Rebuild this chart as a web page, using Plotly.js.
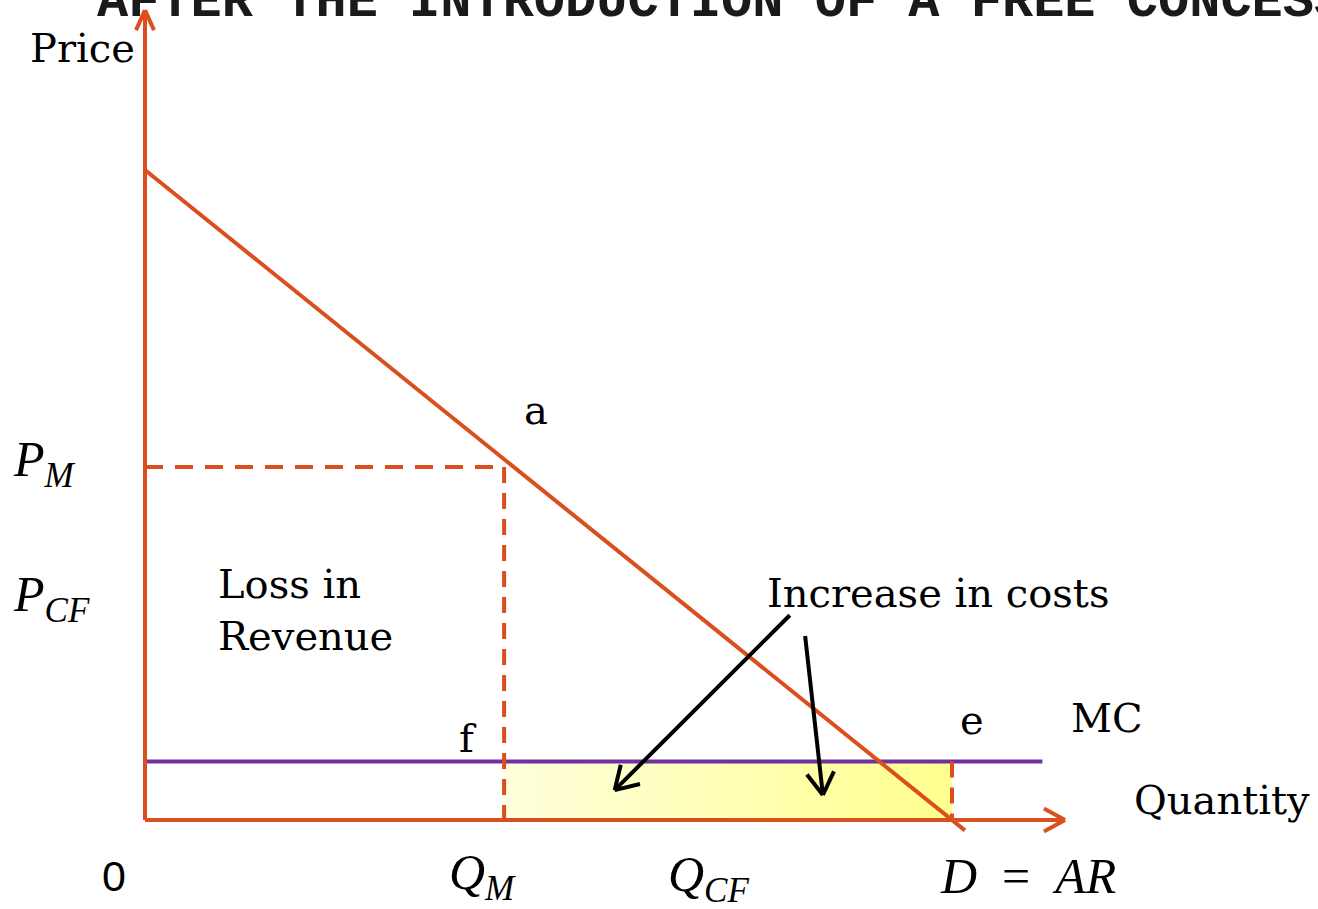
<!DOCTYPE html>
<html>
<head>
<meta charset="utf-8">
<script src="https://cdn.plot.ly/plotly-3.0.1.min.js"></script>
<style>html,body{margin:0;padding:0;background:#fff;}#chart{width:1318px;height:909px;}</style>
</head>
<body>
<div id="chart"></div>
<script>
// ---- data (abstract units: quantity on x, price on y) ----
const demandQ = [0, 10.16];
const demandP = [10, -0.16];
const mcQ = [0, 11.12];
const mcP = [0.9, 0.9];
const QM = 4.45;      // monopoly quantity
const PM = 5.43;      // monopoly price
const QE = 10;        // quantity at e
const MCLEVEL = 0.9;
const axisTopP = 12.46;
const axisEndQ = 11.4;
const titleText = 'AFTER THE INTRODUCTION OF A FREE CONCESSION';

const labelTexts = ['Price', 'Quantity', 'a', 'f', 'e', 'MC', 'Increase in costs', 'Loss in<br>Revenue'];
const labelQ = [-0.78, 13.35, 4.84, 4.0, 10.25, 11.92, 9.83, 0.88];
const labelP = [11.88, 0.31, 6.31, 1.26, 1.54, 1.57, 3.49, 3.23];
const labelAnchor = ['center','center','center','center','center','center','center','left'];
const originLabel = '0';
const originQ = -0.39, originP = -0.86;

const mathTexts = ['<i>P</i><sub><i>M</i></sub>', '<i>P</i><sub><i>CF</i></sub>', '<i>Q</i><sub><i>M</i></sub>', '<i>Q</i><sub><i>CF</i></sub>', '<i>D</i>&nbsp;&nbsp;=&nbsp;&nbsp;<i>AR</i>'];
const mathQ = [-1.66, -1.66, 4.18, 6.98, 10.94];
const mathP = [5.5, 3.42, -0.86, -0.89, -0.86];
const mathAnchor = ['left','left','center','center','center'];

// pointer arrows: tail -> head
const arrowTailQ = [7.99, 8.18];
const arrowTailP = [3.15, 2.83];
const arrowHeadQ = [5.82, 8.40];
const arrowHeadP = [0.46, 0.385];

// ---- scales ----
const W = 1318, H = 909, OX = 145, OY = 820, SX = 80.7, SY = 65;
const xr = [-OX / SX, (W - OX) / SX];
const yr = [-(H - OY) / SY, OY / SY];

const ORANGE = '#D9501E';
const PURPLE = '#7030A0';

const traces = [];
traces.push({
  x: [QM, QE, QE, QM, QM], y: [0, 0, MCLEVEL, MCLEVEL, 0],
  type: 'scatter', mode: 'lines', fill: 'toself', line: {width: 0},
  fillgradient: {type: 'horizontal', colorscale: [[0, '#FFFFDC'], [1, '#FFFF8E']]},
  hoverinfo: 'skip'
});
traces.push({x: mcQ, y: mcP, type: 'scatter', mode: 'lines', line: {color: PURPLE, width: 4}, hoverinfo: 'skip'});
traces.push({x: [0, QM], y: [PM, PM], type: 'scatter', mode: 'lines', line: {color: ORANGE, width: 4, dash: '18px,12px'}, hoverinfo: 'skip'});
traces.push({x: [QM, QM], y: [PM, 0], type: 'scatter', mode: 'lines', line: {color: ORANGE, width: 4, dash: '16px,10px'}, hoverinfo: 'skip'});
traces.push({x: [QE, QE], y: [MCLEVEL, 0], type: 'scatter', mode: 'lines', line: {color: ORANGE, width: 4, dash: '16px,10px'}, hoverinfo: 'skip'});
traces.push({x: demandQ, y: demandP, type: 'scatter', mode: 'lines', line: {color: ORANGE, width: 4}, hoverinfo: 'skip'});
traces.push({x: [0, 0], y: [0, axisTopP], type: 'scatter', mode: 'lines', line: {color: ORANGE, width: 4}, hoverinfo: 'skip'});
traces.push({x: [0, axisEndQ], y: [0, 0], type: 'scatter', mode: 'lines', line: {color: ORANGE, width: 4}, hoverinfo: 'skip'});
for (let i = 0; i < arrowTailQ.length; i++) {
  traces.push({x: [arrowTailQ[i], arrowHeadQ[i]], y: [arrowTailP[i], arrowHeadP[i]], type: 'scatter', mode: 'lines', line: {color: '#000', width: 4}, hoverinfo: 'skip'});
}

const shapes = [];
function chevron(q, p, dirPx, dirPy, len, ang, color, width) {
  const n = Math.hypot(dirPx, dirPy);
  const bx = -dirPx / n, by = -dirPy / n;
  [ang, -ang].forEach(a => {
    const c = Math.cos(a), s = Math.sin(a);
    const rx = bx * c - by * s, ry = bx * s + by * c;
    shapes.push({type: 'line', xref: 'x', yref: 'y', x0: q, y0: p,
      x1: q + rx * len / SX, y1: p + ry * len / SY,
      line: {color: color, width: width}});
  });
}
chevron(0, axisTopP, 0, 1, 22, 0.42, ORANGE, 4);
chevron(axisEndQ, 0, 1, 0, 24, 0.5, ORANGE, 4);
for (let i = 0; i < arrowTailQ.length; i++) {
  const dpx = (arrowHeadQ[i] - arrowTailQ[i]) * SX;
  const dpy = (arrowHeadP[i] - arrowTailP[i]) * SY;
  chevron(arrowHeadQ[i], arrowHeadP[i], dpx, dpy, 26, 0.55, '#000', 4);
}

const annotations = [];
annotations.push({xref: 'paper', yref: 'paper', x: 95 / W, y: 1 - 34 / H, xanchor: 'left', yanchor: 'bottom',
  text: '<b>' + titleText + '</b>', showarrow: false,
  font: {family: 'Liberation Mono, DejaVu Sans Mono, monospace', size: 52, color: '#1a1a1a'}});
for (let i = 0; i < labelTexts.length; i++) {
  annotations.push({x: labelQ[i], y: labelP[i], xref: 'x', yref: 'y', text: labelTexts[i], showarrow: false,
    xanchor: labelAnchor[i], yanchor: 'middle', align: 'left',
    font: {family: 'DejaVu Serif, serif', size: 40, color: '#000'}});
}
annotations.push({x: originQ, y: originP, xref: 'x', yref: 'y', text: originLabel, showarrow: false,
  xanchor: 'center', yanchor: 'middle',
  font: {family: 'Liberation Sans, Arial, sans-serif', size: 43, color: '#000'}});
for (let i = 0; i < mathTexts.length; i++) {
  annotations.push({x: mathQ[i], y: mathP[i], xref: 'x', yref: 'y', text: mathTexts[i], showarrow: false,
    xanchor: mathAnchor[i], yanchor: 'middle',
    font: {family: 'Liberation Serif, serif', size: 50, color: '#000'}});
}

const layout = {
  width: W, height: H, margin: {l: 0, r: 0, t: 0, b: 0},
  paper_bgcolor: '#fff', plot_bgcolor: '#fff', showlegend: false,
  xaxis: {range: xr, visible: false, fixedrange: true},
  yaxis: {range: yr, visible: false, fixedrange: true},
  shapes: shapes, annotations: annotations
};
Plotly.newPlot('chart', traces, layout, {displayModeBar: false, staticPlot: true});
</script>
</body>
</html>
